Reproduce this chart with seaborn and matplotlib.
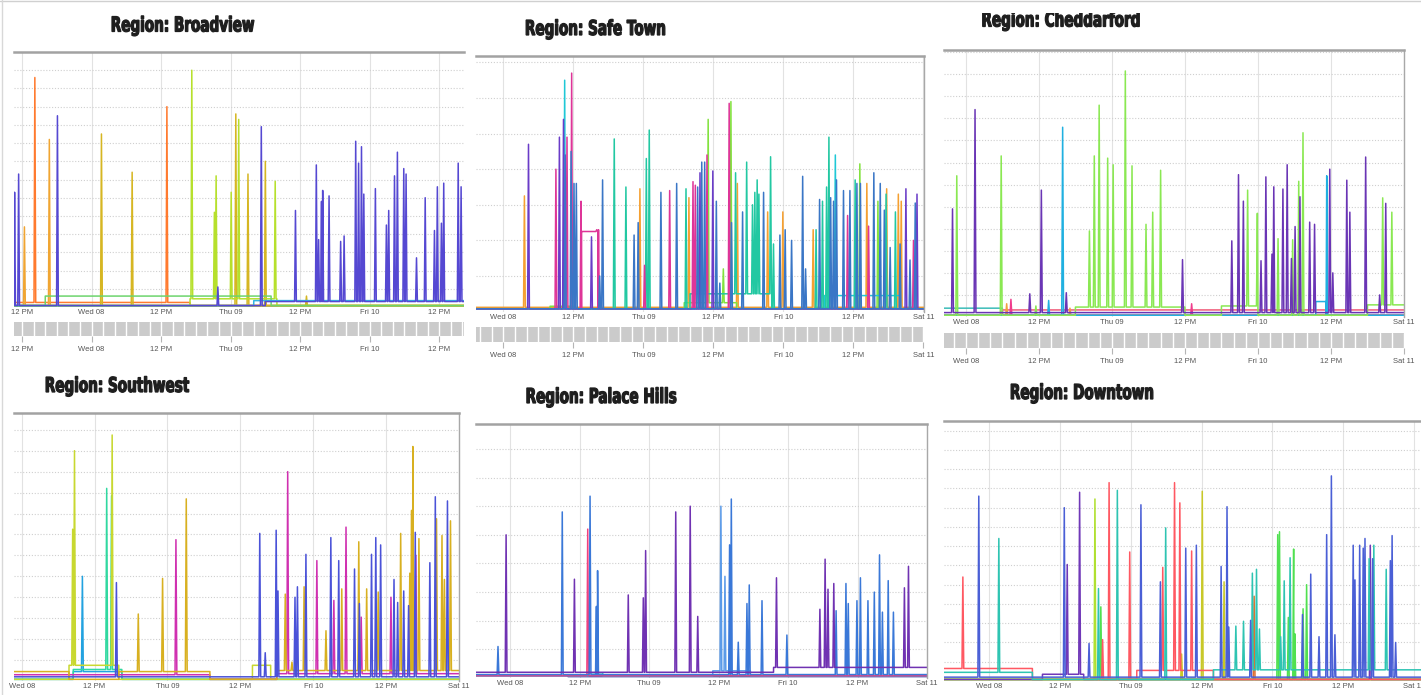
import numpy as np
import pandas as pd
import matplotlib
matplotlib.use("Agg")
import matplotlib.pyplot as plt
from matplotlib.patches import Rectangle, PathPatch
from matplotlib.lines import Line2D
from matplotlib.textpath import TextPath
from matplotlib.font_manager import FontProperties
from matplotlib.transforms import Affine2D, IdentityTransform
import seaborn as sns

# -----------------------------
# Data (hours counted from Wed 08 00:00)
# -----------------------------
tick_hours = [-12, 0, 12, 24, 36, 48, 60, 72]
tick_labels = ["12 PM", "Wed 08", "12 PM", "Thu 09", "12 PM", "Fri 10", "12 PM", "Sat 11"]

# Broadview
bv_t = [-13.3, -12.6, -11.6, -9.8, -7.3, -5.9, 1.7, 7.0, 13.0, 17.3, 21.2, 21.5, 21.8, 24.1,
        24.9, 25.4, 27.0, 29.3, 30.0, 31.7, 35.2, 37.1, 38.8, 39.2, 39.7, 39.9, 41.0, 43.0,
        43.6, 45.6, 46.1, 46.6, 47.0, 49.0, 50.9, 51.3, 52.3, 52.8, 53.9, 54.3, 56.1, 57.6,
        59.2, 59.7, 60.4, 60.8, 63.3, 63.8]
bv_h = [6.3, 7.3, 4.4, 12.6, 9.2, 10.5, 9.5, 7.4, 11.0, 13.0, 5.2, 7.2, 1.1, 6.3,
        10.6, 10.3, 7.3, 9.9, 8.0, 6.9, 5.3, 0.6, 7.8, 3.7, 5.8, 6.4, 6.1, 3.6,
        3.9, 9.1, 7.9, 8.8, 6.2, 6.5, 4.5, 5.3, 7.2, 8.5, 7.6, 7.3, 2.7, 6.0,
        4.2, 6.6, 4.6, 6.8, 7.9, 6.6]
bv_s = ["indigo", "indigo", "amber", "orange", "amber", "indigo", "gold", "gold", "orange", "lime",
        "lime", "lime", "indigo", "lime", "gold", "lime", "gold", "indigo", "gold", "lime",
        "indigo", "gold"] + ["indigo"] * 26
bv_base = [("teal", -14, 65, 0.05), ("orange", -14, 17, 0.25), ("green", -8, 31, 0.6),
           ("lime", 17, 32, 0.45), ("cyan", 28, 65, 0.35), ("indigo", 30, 65, 0.3)]

# Safe Town
st_t = [3.6, 4.3, 9.0, 9.6, 10.3, 10.5, 10.6, 10.9, 11.6, 11.7, 12.1, 12.5, 13.3, 15.1, 16.0,
        16.3, 16.5, 17.0, 19.0, 21.0, 22.4, 23.1, 23.4, 24.2, 24.5, 25.0, 27.0, 28.5, 29.7,
        31.3, 31.8, 32.5, 32.9, 33.3, 33.7, 34.0, 34.5, 34.9, 35.1, 35.9, 36.5, 37.1, 37.7,
        38.7, 39.0, 39.1, 39.8, 40.1, 41.0, 41.7, 42.7, 43.1, 43.5, 43.8, 44.6, 45.3, 45.8,
        46.3, 47.4, 47.9, 48.3, 49.4, 51.3, 51.8, 53.1, 53.6, 54.2, 54.7, 55.4, 55.8, 56.1,
        56.6, 56.9, 57.1, 58.3, 59.0, 59.4, 60.3, 60.6, 61.1, 61.2, 62.3, 62.6, 63.5, 64.2,
        64.6, 65.3, 65.6, 65.7, 66.3, 67.2, 67.7, 68.0, 68.2, 69.0, 69.7, 70.3, 70.6, 70.9]
st_h = [3.25, 4.7, 4.0, 4.9, 5.4, 6.5, 4.4, 4.9, 4.5, 6.7, 3.6, 3.6, 3.1, 2.1, 2.3,
        2.3, 1.0, 3.7, 4.85, 3.5, 2.15, 2.5, 3.45, 1.3, 4.3, 5.1, 3.35, 3.4, 3.6,
        3.45, 3.2, 3.65, 3.55, 3.5, 3.9, 4.2, 4.2, 4.4, 5.4, 3.95, 3.1, 0.8, 1.2,
        5.85, 5.9, 2.5, 3.9, 3.6, 2.8, 4.2, 3.0, 3.35, 3.7, 3.3, 3.35, 2.8, 4.35,
        1.9, 2.15, 2.8, 2.3, 2.0, 3.8, 1.2, 2.3, 2.3, 3.15, 3.1, 3.5, 4.9, 3.2,
        3.1, 4.4, 3.7, 3.4, 2.7, 3.4, 3.7, 3.6, 4.15, 3.6, 3.6, 2.4, 3.9, 3.1,
        3.6, 2.85, 3.3, 3.45, 1.8, 2.8, 3.3, 1.9, 3.1, 3.45, 1.45, 2.0, 3.05, 3.3]
st_s = ["orange", "purple", "magenta", "purple", "purple", "cyan", "steel", "magenta", "steel",
        "magenta", "steel", "steel", "magenta", "purple", "magenta", "magenta", "steel", "steel",
        "teal", "teal", "steel", "steel", "orange", "magenta", "teal", "teal", "steel", "magenta",
        "steel", "teal", "orange", "magenta", "magenta", "steel", "purple", "steel", "steel",
        "magenta", "green", "purple", "steel", "steel", "green", "magenta", "green", "steel",
        "teal", "orange", "steel", "teal", "teal", "teal", "teal", "teal", "steel", "orange",
        "teal", "teal", "steel", "orange", "steel", "steel", "steel", "steel", "orange", "teal",
        "steel", "teal", "teal", "teal", "steel", "steel", "cyan", "steel", "steel", "magenta",
        "steel", "teal", "steel", "green", "steel", "orange", "magenta", "steel", "green",
        "steel", "steel", "teal", "orange", "steel", "teal", "orange", "steel", "orange",
        "purple", "steel", "magenta", "steel", "purple"]
st_base = [("orange", -5, 73, 0.12), ("magenta", 13.4, 16.2, 2.25), ("green", 8, 12, 0.15),
           ("green", 31, 40, 0.25), ("teal", 32, 46, 0.5), ("cyan", 55, 68, 0.45)]

# Cheddarford
cf_t = [-2.2, -1.5, 1.5, 5.8, 6.7, 7.4, 10.5, 11.5, 12.4, 13.6, 15.9, 16.5, 17.1, 20.3, 21.1,
        21.9, 23.3, 24.2, 26.2, 27.3, 29.6, 30.7, 32.0, 35.6, 37.1, 43.7, 44.8, 45.6, 46.3,
        47.9, 48.5, 49.3, 50.3, 50.6, 51.3, 52.1, 52.8, 53.5, 53.7, 54.1, 54.7, 54.9, 55.4,
        56.5, 57.3, 59.3, 59.8, 60.3, 62.6, 63.1, 65.7, 68.0, 68.5, 69.0, 70.0]
cf_h = [4.9, 6.4, 9.4, 7.3, 0.6, 0.8, 1.05, 0.5, 5.75, 0.75, 8.6, 1.1, 0.4, 3.9, 7.3,
        9.6, 7.2, 6.9, 11.15, 6.85, 4.2, 4.75, 6.65, 2.6, 0.6, 3.45, 6.45, 5.25, 5.75,
        4.7, 2.55, 6.35, 2.85, 5.9, 3.55, 5.8, 6.9, 2.65, 3.5, 4.1, 6.15, 5.45, 8.35,
        4.3, 4.2, 6.4, 6.7, 2.0, 6.2, 4.75, 7.25, 1.0, 5.4, 5.15, 4.75]
cf_s = ["purple", "green", "purple", "green", "orange", "magenta", "purple", "green", "purple",
        "cyan", "cyan", "purple", "orange", "green", "green", "green", "green", "green", "green",
        "green", "green", "green", "green", "purple", "magenta", "purple", "purple", "purple",
        "green", "green", "purple", "purple", "purple", "purple", "green", "purple", "purple",
        "purple", "green", "purple", "green", "purple", "green", "purple", "purple", "cyan",
        "purple", "purple", "purple", "purple", "purple", "purple", "green", "purple", "green"]
cf_base = [("teal", -4, 6, 0.4), ("red", 6, 73, 0.32), ("purple", -4, 73, 0.2),
           ("green", 18, 36, 0.45), ("green", 42, 48, 0.5), ("green", 66, 73, 0.55),
           ("cyan", 57.5, 59.2, 0.7)]

# Southwest
sw_t = [8.4, 8.7, 10.0, 14.0, 14.8, 14.9, 15.6, 19.2, 23.2, 25.4, 27.1, 39.2, 40.1, 41.9, 42.2,
        43.4, 43.8, 44.5, 45.0, 45.4, 46.5, 46.8, 48.6, 50.1, 50.9, 51.4, 52.2, 52.7, 53.4,
        54.8, 55.5, 55.6, 55.9, 56.8, 57.6, 58.3, 58.7, 59.1, 60.8, 61.3, 61.9, 62.4, 62.9,
        63.7, 63.9, 64.2, 64.4, 64.8, 64.9, 65.4, 67.2, 68.1, 68.3, 69.2, 69.6, 70.1, 70.6]
sw_h = [7.25, 11.0, 5.0, 9.2, 8.85, 11.75, 4.7, 3.2, 4.9, 6.75, 8.7, 7.05, 1.35, 7.2, 4.3,
        4.15, 10.0, 0.9, 4.0, 4.5, 4.5, 6.05, 5.75, 2.4, 6.85, 3.85, 5.75, 4.4, 7.35,
        5.35, 6.65, 3.7, 3.05, 4.4, 6.05, 6.85, 4.25, 6.5, 4.0, 4.85, 3.75, 7.05, 4.3,
        3.6, 5.15, 8.15, 11.2, 7.1, 6.0, 6.8, 5.65, 8.8, 7.75, 6.95, 4.85, 8.6, 7.65]
sw_s = ["lime", "lime", "cyan", "teal", "teal", "lime", "blue", "gold", "gold", "magenta", "gold",
        "blue", "blue", "blue", "blue", "gold", "magenta", "gold", "blue", "blue", "gold", "blue",
        "magenta", "gold", "blue", "magenta", "blue", "gold", "magenta", "blue", "gold", "blue",
        "magenta", "gold", "blue", "blue", "gold", "blue", "magenta", "blue", "blue", "gold",
        "blue", "blue", "gold", "gold", "gold", "blue", "magenta", "gold", "blue", "blue", "gold",
        "gold", "gold", "blue", "gold"]
sw_base = [("blue", -2, 73, 0.2), ("magenta", -2, 31, 0.3), ("magenta", 42, 73, 0.35),
           ("gold", -2, 7.8, 0.45), ("gold", 16, 31, 0.45), ("gold", 42, 73, 0.5),
           ("lime", 7.8, 16, 0.75), ("lime", 38, 41, 0.75), ("cyan", 8.5, 16.5, 0.45),
           ("teal", 8.5, 16.5, 0.55)]

# Palace Hills
ph_t = [-2.1, -0.7, 9.0, 11.1, 13.4, 13.8, 14.9, 15.1, 20.4, 23.0, 23.4, 28.6, 31.1, 32.4, 36.4,
        37.1, 37.9, 38.2, 39.4, 40.9, 41.3, 43.5, 46.0, 47.8, 53.5, 54.4, 54.9, 55.9, 56.3,
        58.0, 58.4, 59.9, 60.5, 61.8, 62.9, 63.8, 64.3, 65.3, 66.2, 68.1, 68.8]
ph_h = [1.1, 5.0, 5.8, 3.45, 5.2, 6.35, 2.5, 3.75, 2.9, 2.8, 4.45, 5.8, 6.0, 2.15, 6.0,
        3.55, 4.65, 6.25, 1.25, 2.6, 3.25, 2.7, 3.5, 1.5, 2.4, 4.15, 3.1, 3.3, 2.35,
        3.3, 2.6, 2.7, 3.5, 2.7, 3.0, 4.3, 2.3, 3.4, 2.3, 3.15, 3.9]
ph_s = ["blue", "purple", "blue", "purple", "pink", "blue", "blue", "blue", "purple", "purple",
        "purple", "purple", "purple", "purple", "sky", "sky", "blue", "blue", "blue", "blue",
        "blue", "blue", "purple", "blue", "purple", "purple", "purple", "purple", "blue", "blue",
        "blue", "blue", "blue", "blue", "blue", "blue", "blue", "blue", "blue", "purple", "purple"]
ph_base = [("navy", 10, 73, 0.05), ("blue", -7, 73, 0.12), ("purple", -7, 45.5, 0.2),
           ("purple", 45.5, 73, 0.37), ("sky", 35, 41.5, 0.25), ("teal", 13.5, 16, 0.18)]

# Downtown
dt_t = [-4.5, -1.8, 1.6, 12.7, 13.2, 15.3, 16.9, 17.9, 18.5, 18.9, 19.2, 20.3, 21.7, 23.8, 25.7,
        29.0, 29.4, 29.9, 31.4, 32.3, 32.6, 33.3, 34.3, 35.1, 36.1, 39.3, 39.8, 40.3, 40.6,
        41.8, 43.1, 44.3, 44.6, 44.9, 45.3, 45.8, 48.9, 49.2, 49.4, 50.0, 50.7, 51.0, 51.6,
        51.8, 53.1, 53.2, 53.8, 54.5, 55.9, 57.2, 58.0, 58.6, 61.7, 62.0, 62.8, 63.4, 63.7,
        64.4, 64.6, 65.0, 65.2, 67.3, 68.0, 68.3, 68.9]
dt_h = [5.4, 9.6, 7.4, 9.0, 6.05, 9.8, 1.95, 9.45, 4.8, 3.85, 2.15, 10.3, 9.9, 6.7, 9.15,
        5.15, 5.9, 7.95, 10.3, 9.25, 1.4, 6.9, 6.75, 7.05, 9.85, 5.95, 5.15, 9.05, 2.8,
        2.85, 3.1, 3.15, 5.6, 4.4, 5.8, 2.7, 7.6, 7.75, 2.3, 5.2, 3.3, 6.4, 6.85,
        2.45, 3.45, 3.75, 5.0, 5.55, 2.3, 7.6, 10.65, 2.4, 7.05, 5.25, 7.05, 6.9, 7.4,
        6.35, 7.05, 6.35, 7.05, 5.8, 6.25, 7.55, 2.0]
dt_s = ["red", "blue", "teal", "blue", "purple", "purple", "blue", "lime", "teal", "green", "red",
        "red", "teal", "red", "blue", "blue", "red", "teal", "red", "red", "olive", "blue", "red",
        "blue", "olive", "blue", "olive", "blue", "blue", "teal", "teal", "blue", "teal", "orange",
        "teal", "teal", "green", "green", "teal", "teal", "green", "teal", "green", "green",
        "blue", "green", "green", "blue", "blue", "blue", "blue", "blue", "blue", "blue", "blue",
        "blue", "blue", "teal", "purple", "blue", "teal", "teal", "blue", "blue", "blue"]
dt_base = [("blue", -8, 74, 0.2), ("red", -8, 7.3, 0.65), ("red", 25, 38, 0.55),
           ("teal", -8, 7.3, 0.45), ("teal", 38, 74, 0.58), ("purple", 9, 16, 0.35)]

# -----------------------------
# Colours per region
# -----------------------------
pal_bv = {"teal": "#3cc0b4", "orange": "#ff7a2e", "amber": "#f0a532", "gold": "#d6b622",
          "lime": "#b6e02c", "green": "#6cd46c", "cyan": "#33b6e2", "indigo": "#5548d2"}
pal_st = {"orange": "#f5a031", "green": "#82e23e", "cyan": "#1fc8d6", "teal": "#22c8a2",
          "magenta": "#de3598", "purple": "#6a3cc8", "steel": "#3a76c6"}
pal_cf = {"teal": "#3cbcb8", "red": "#f05a78", "orange": "#f0a040", "magenta": "#f03c8c",
          "cyan": "#20b0e0", "green": "#8ae852", "purple": "#6a35b5"}
pal_sw = {"red": "#f04a4a", "cyan": "#22a2e0", "teal": "#30d8a0", "lime": "#c8d830",
          "magenta": "#d030b0", "gold": "#d8b020", "blue": "#4a52d8"}
pal_ph = {"navy": "#3040a0", "teal": "#40c0c0", "sky": "#5a9ae8", "pink": "#f04080",
          "blue": "#3a78d8", "purple": "#7032b2"}
pal_dt = {"orange": "#e07030", "olive": "#c8c828", "lime": "#b0e030", "green": "#50e050",
          "purple": "#7038b8", "red": "#ff5862", "teal": "#2ec4b2", "blue": "#4a5fd6"}


def build_lines(times, heights, series, base, x0, x1, w=0.15):
    rows = []
    names = list(dict.fromkeys([b[0] for b in base] + list(series)))
    for name in names:
        segs = [b for b in base if b[0] == name]

        def level(x):
            for _, a, b, v in segs:
                if a <= x < b:
                    return v
            return 0.08

        xs = [x0, x1]
        for _, a, b, v in segs:
            xs += [a - 0.01, a, b - 0.01, b]
        pts = [(x, level(x)) for x in xs]
        for t, hh, nm in zip(times, heights, series):
            if nm == name:
                pts += [(t - w, level(t - w)), (t, hh), (t + w, level(t + w))]
        pts.sort(key=lambda q: q[0])
        rows += [(name, x, y) for x, y in pts]
    return pd.DataFrame(rows, columns=["series", "hour", "value"])


# -----------------------------
# Layout (pixel boxes in the 1421x695 canvas)
# -----------------------------
W, H = 1421, 695
panels = [
    dict(name="Broadview", data=(bv_t, bv_h, bv_s, bv_base), pal=pal_bv, box=(14, 52, 464, 307),
         xlim=(-13.4, 64.3), ymax=14.0, title=(183, 31.5), nav=(322, 336), right=False),
    dict(name="Safe Town", data=(st_t, st_h, st_s, st_base), pal=pal_st, box=(476, 56, 924, 311.6),
         xlim=(-4.7, 72.1), ymax=7.18, title=(595.5, 35), nav=(327, 342), right=True),
    dict(name="Cheddarford", data=(cf_t, cf_h, cf_s, cf_base), pal=pal_cf, box=(944, 50, 1404, 317),
         xlim=(-3.6, 72.0), ymax=12.1, title=(1061, 26.5), nav=(333, 348), right=True),
    dict(name="Southwest", data=(sw_t, sw_h, sw_s, sw_base), pal=pal_sw, box=(14, 413, 459, 681),
         xlim=(-1.26, 72.0), ymax=12.8, title=(117.5, 392), nav=None, right=True),
    dict(name="Palace Hills", data=(ph_t, ph_h, ph_s, ph_base), pal=pal_ph, box=(476, 424, 927, 678),
         xlim=(-5.9, 72.0), ymax=8.87, title=(601.5, 403), nav=None, right=True),
    dict(name="Downtown", data=(dt_t, dt_h, dt_s, dt_base), pal=pal_dt, box=(944, 421, 1421, 681),
         xlim=(-7.7, 73.2), ymax=13.5, title=(1082, 399), nav=None, right=False),
]

sns.set_theme(style="white")
plt.rcParams["font.family"] = ["Liberation Sans", "DejaVu Sans"]

fig = plt.figure(figsize=(W / 100, H / 100), dpi=100)

# condensed heavy title lettering, squeezed from a bold face
title_prop = FontProperties(family="DejaVu Sans", weight="bold")
ref_w = TextPath((0, 0), "Region: Broadview", size=1, prop=title_prop).get_extents().width
title_sx = 142 / ref_w
title_sy = 15 / 0.729


def draw_title(text, cx, base_y):
    tp = TextPath((0, 0), text, size=1, prop=title_prop)
    ext = tp.get_extents()
    tr = (Affine2D().translate(-(ext.x0 + ext.width / 2), 0)
          .scale(title_sx, title_sy).translate(cx, H - base_y))
    fig.add_artist(PathPatch(tp, transform=tr + IdentityTransform(), facecolor="#1e1e1e",
                             edgecolor="#1e1e1e", linewidth=0.9, zorder=5))


def frac_box(x0, y0, x1, y1):
    return [x0 / W, 1 - y1 / H, (x1 - x0) / W, (y1 - y0) / H]


for p in panels:
    x0, y0, x1, y1 = p["box"]
    ax = fig.add_axes(frac_box(x0, y0, x1, y1))
    t, h, s, base = p["data"]
    df = build_lines(t, h, s, base, p["xlim"][0], p["xlim"][1])
    order = [k for k in p["pal"] if k in set(df["series"])]
    sns.lineplot(data=df, x="hour", y="value", hue="series", hue_order=order, palette=p["pal"],
                 estimator=None, sort=False, legend=False, linewidth=1.1, ax=ax)
    ax.set_xticks(tick_hours)
    ax.set_xticklabels(tick_labels)
    ax.set_yticks(np.arange(1, p["ymax"], 1))
    ax.set_yticklabels([])
    ax.set_xlim(*p["xlim"])
    ax.set_ylim(0, p["ymax"])
    ax.set_xlabel("")
    ax.set_ylabel("")
    ax.tick_params(axis="both", length=0, pad=1.5, labelsize=5.5, labelcolor="#555555")
    ax.grid(axis="x", color="#e2e2e2", linewidth=0.8, linestyle="-")
    ax.grid(axis="y", color="#cfcfcf", linewidth=0.8, linestyle=(0, (1, 1.6)))
    ax.set_axisbelow(True)
    for side in ["left", "bottom"]:
        ax.spines[side].set_visible(False)
    ax.spines["top"].set_color("#a2a2a2")
    ax.spines["top"].set_linewidth(1.8)
    ax.spines["right"].set_visible(p["right"])
    ax.spines["right"].set_color("#a8a8a8")
    ax.spines["right"].set_linewidth(1.0)

    # range navigator strip under the top row charts
    if p["nav"] is not None:
        n0, n1 = p["nav"]
        nav = fig.add_axes(frac_box(x0, n0, x1, n1))
        nav.set_facecolor("#cbcbcb")
        nav.set_xticks(tick_hours)
        nav.set_xticklabels(tick_labels)
        nav.set_yticks([])
        nav.set_xlim(*p["xlim"])
        nav.set_ylim(0, 1)
        for v in np.arange(-24, 76, 2):
            nav.axvline(v, color="white", linewidth=1.0)
        nav.set_xlim(*p["xlim"])
        nav.tick_params(axis="x", length=4, width=0.8, color="#b5b5b5", pad=3,
                        labelsize=5.5, labelcolor="#555555", bottom=True)
        for sp in nav.spines.values():
            sp.set_visible(False)

    draw_title("Region: " + p["name"], *p["title"])

# top of the Cheddarford title is cut by the screenshot edge
fig.add_artist(Rectangle((944 / W, 1 - 13 / H), (W - 944) / W, 13 / H, transform=fig.transFigure,
                         facecolor="white", edgecolor="none", zorder=6))
# faint screenshot border
fig.add_artist(Line2D([0, 1], [1 - 1 / H, 1 - 1 / H], transform=fig.transFigure, color="#d0d0d0",
                      linewidth=1.0, zorder=7))
fig.add_artist(Line2D([2 / W, 2 / W], [0, 1], transform=fig.transFigure, color="#d8d8d8",
                      linewidth=1.0, zorder=7))

fig.savefig("out.png", dpi=100)
